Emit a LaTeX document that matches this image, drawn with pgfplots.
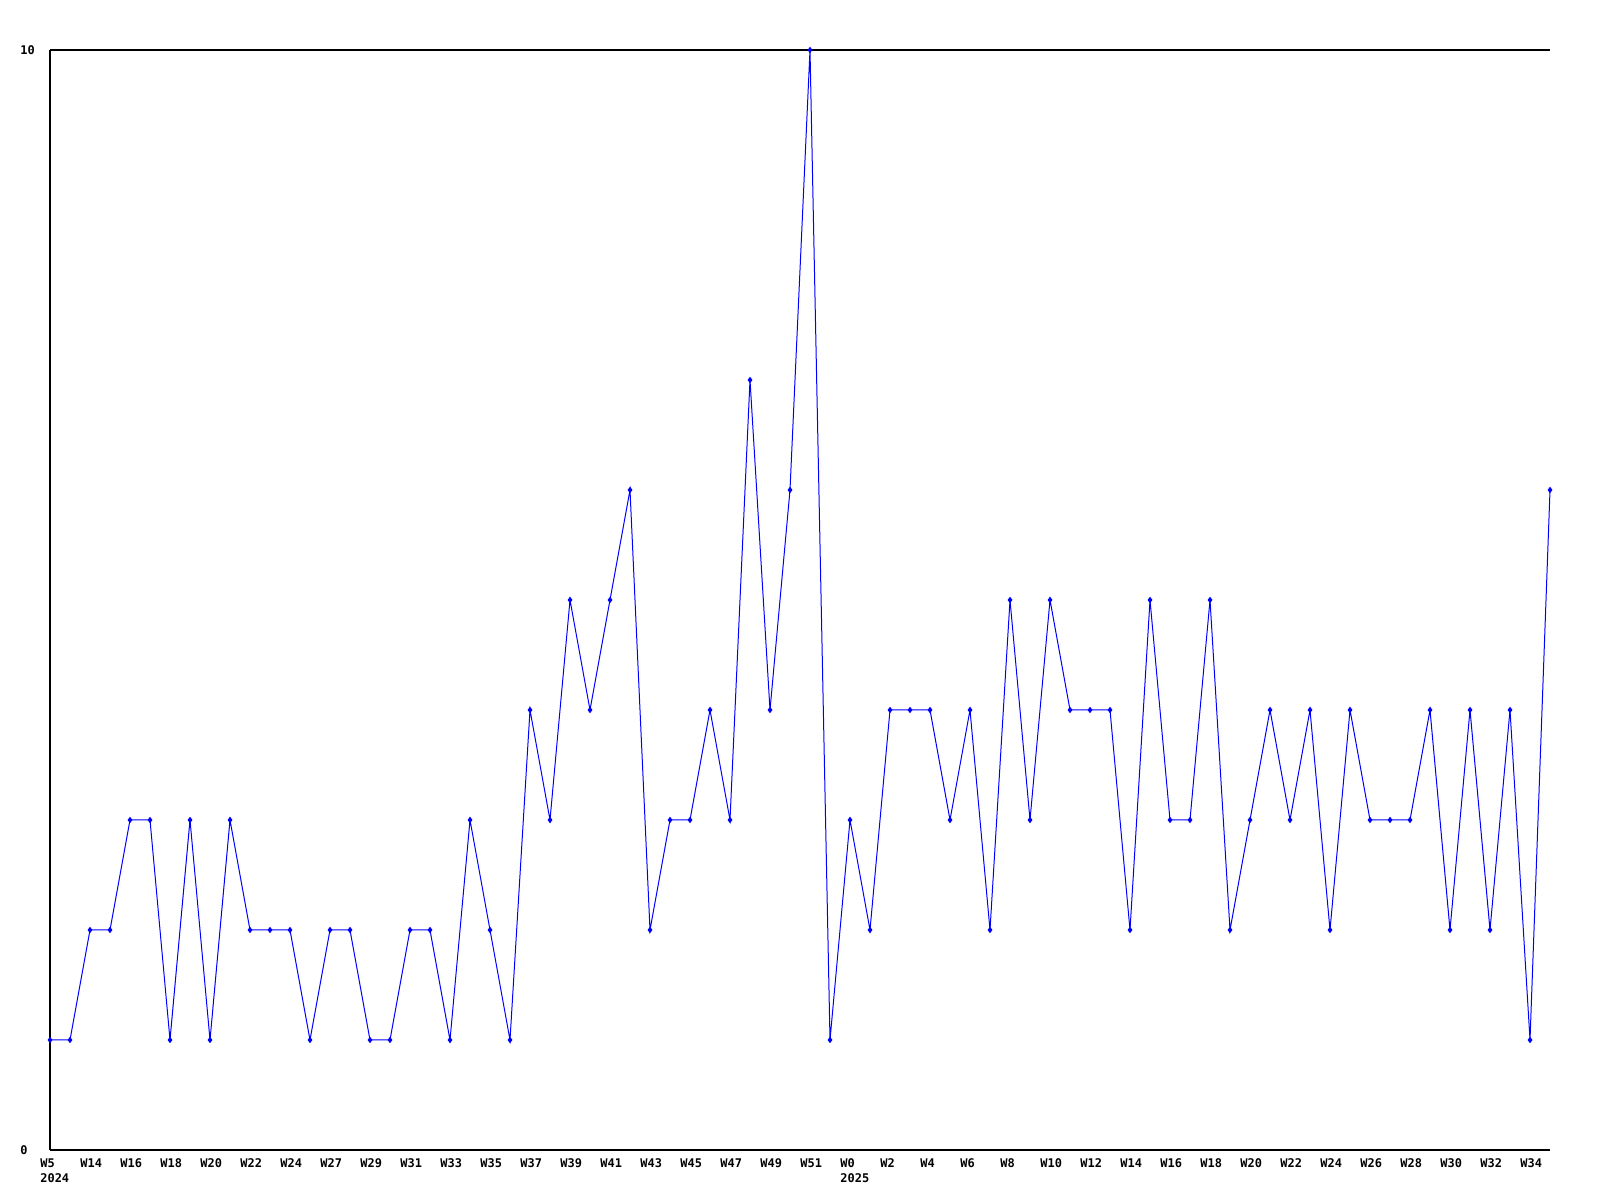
\documentclass[border=0pt]{standalone}
\usepackage{fontspec}
\setmonofont{DejaVu Sans Mono}
\usepackage{pgfplots}
\pgfplotsset{compat=1.18}
\begin{document}
\begin{tikzpicture}[x=1bp,y=1bp]
\useasboundingbox (0,0) rectangle (800,600);
\begin{axis}[
  at={(25bp,25bp)}, anchor=south west,
  scale only axis, width=750bp, height=550bp,
  xmin=0, xmax=75, ymin=0, ymax=10,
  enlargelimits=false, clip=false,
  axis x line=box, axis y line=left,
  axis line style={-, line width=0.65bp, black},
  major tick length=0pt,
  xtick={0,2,...,74},
  xticklabels={{W5\\2024},W14,W16,W18,W20,W22,W24,W27,W29,W31,W33,W35,W37,W39,W41,W43,W45,W47,W49,W51,{W0\\2025},W2,W4,W6,W8,W10,W12,W14,W16,W18,W20,W22,W24,W26,W28,W30,W32,W34},
  ytick={0,10}, yticklabels={0,10},
  xticklabel style={font=\ttfamily\bfseries\fontsize{6}{7.5}\selectfont, anchor=north west, inner sep=0pt, xshift=-5bp, yshift=-4bp, align=left},
  yticklabel style={font=\ttfamily\bfseries\fontsize{6}{7.5}\selectfont, anchor=west, inner sep=0pt, xshift=-15bp},
]
\addplot[color={rgb,255:red,0;green,0;blue,255}, line width=0.5bp, mark=diamond*, mark size=1.2bp, mark options={solid}] coordinates {
(0,1)(1,1)(2,2)(3,2)(4,3)(5,3)(6,1)(7,3)(8,1)(9,3)
(10,2)(11,2)(12,2)(13,1)(14,2)(15,2)(16,1)(17,1)(18,2)(19,2)
(20,1)(21,3)(22,2)(23,1)(24,4)(25,3)(26,5)(27,4)(28,5)(29,6)
(30,2)(31,3)(32,3)(33,4)(34,3)(35,7)(36,4)(37,6)(38,10)(39,1)
(40,3)(41,2)(42,4)(43,4)(44,4)(45,3)(46,4)(47,2)(48,5)(49,3)
(50,5)(51,4)(52,4)(53,4)(54,2)(55,5)(56,3)(57,3)(58,5)(59,2)
(60,3)(61,4)(62,3)(63,4)(64,2)(65,4)(66,3)(67,3)(68,3)(69,4)
(70,2)(71,4)(72,2)(73,4)(74,1)(75,6)
};
\end{axis}
\end{tikzpicture}
\end{document}
